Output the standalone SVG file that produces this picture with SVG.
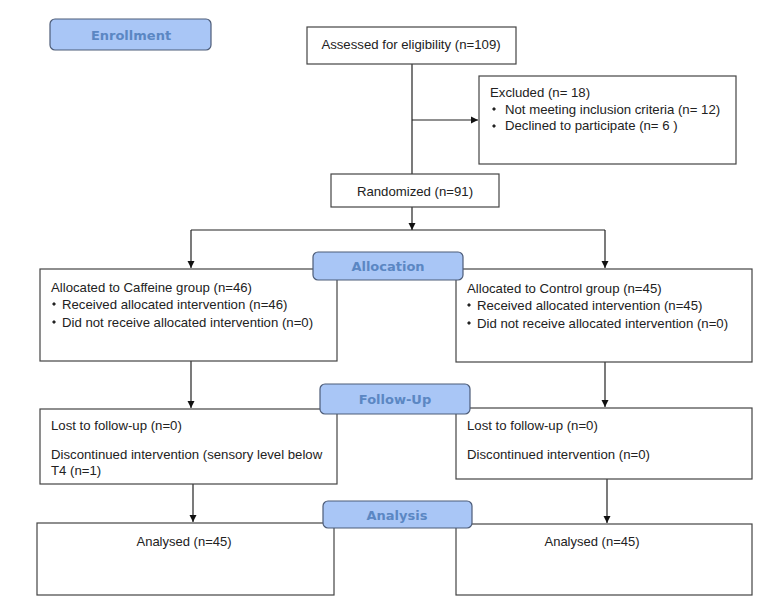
<svg xmlns="http://www.w3.org/2000/svg" width="778" height="602" viewBox="0 0 778 602">
<style>
.box{fill:#fff;stroke:#444;stroke-width:1.2}
.lbl{fill:#a9c6f6;stroke:#4d5c78;stroke-width:1.2}
.lt{font-family:"DejaVu Sans",sans-serif;font-weight:bold;font-size:13px;fill:#5b87c3;text-anchor:middle}
.t{font-family:"Liberation Sans",Arial,sans-serif;font-size:13.2px;fill:#222}
.c{text-anchor:middle}
.ln{fill:none;stroke:#222;stroke-width:1.2}
.bul{fill:#222}
</style>
<defs>
<marker id="ah" markerWidth="8" markerHeight="8" refX="7" refY="4" orient="auto" markerUnits="userSpaceOnUse">
<path d="M0,0.5 L7,4 L0,7.5 z" fill="#111"/>
</marker>
<path id="b" d="M0,-2 L2,0 L0,2 L-2,0 z"/>
</defs>
<rect width="778" height="602" fill="#fff"/>
<g id="connectors">
<line class="ln" x1="412" y1="64" x2="412" y2="174"/>
<line class="ln" x1="412" y1="120" x2="478" y2="120" marker-end="url(#ah)"/>
<line class="ln" x1="412" y1="207" x2="412" y2="230" marker-end="url(#ah)"/>
<line class="ln" x1="191" y1="230" x2="605" y2="230"/>
<line class="ln" x1="191" y1="230" x2="191" y2="268" marker-end="url(#ah)"/>
<line class="ln" x1="605" y1="230" x2="605" y2="268" marker-end="url(#ah)"/>
<line class="ln" x1="191" y1="361" x2="191" y2="408" marker-end="url(#ah)"/>
<line class="ln" x1="605" y1="362" x2="605" y2="407" marker-end="url(#ah)"/>
<line class="ln" x1="193" y1="484" x2="193" y2="522" marker-end="url(#ah)"/>
<line class="ln" x1="607" y1="479" x2="607" y2="523" marker-end="url(#ah)"/>
</g>
<g id="assessed">
<rect class="box" x="307" y="27" width="209" height="37"/>
<text class="t c" x="411" y="49">Assessed for eligibility (n=109)</text>
</g>
<g id="excluded">
<rect class="box" x="479" y="76" width="257" height="88"/>
<text class="t" x="490" y="97">Excluded (n= 18)</text>
<use href="#b" class="bul" x="494" y="109"/>
<text class="t" x="505" y="114">Not meeting inclusion criteria (n= 12)</text>
<use href="#b" class="bul" x="494" y="126"/>
<text class="t" x="505" y="130">Declined to participate (n= 6 )</text>
</g>
<g id="randomized">
<rect class="box" x="331" y="174" width="168" height="33"/>
<text class="t c" x="415" y="196">Randomized (n=91)</text>
</g>
<g id="alloc-left">
<rect class="box" x="40" y="269" width="297" height="92"/>
<text class="t" x="51" y="292">Allocated to Caffeine group (n=46)</text>
<use href="#b" class="bul" x="54" y="304"/>
<text class="t" x="62" y="309">Received allocated intervention (n=46)</text>
<use href="#b" class="bul" x="54" y="322"/>
<text class="t" x="62" y="327">Did not receive allocated intervention (n=0)</text>
</g>
<g id="alloc-right">
<rect class="box" x="456" y="269" width="296" height="93"/>
<text class="t" x="467" y="293">Allocated to Control group (n=45)</text>
<use href="#b" class="bul" x="469" y="305"/>
<text class="t" x="477" y="310">Received allocated intervention (n=45)</text>
<use href="#b" class="bul" x="469" y="323"/>
<text class="t" x="477" y="328">Did not receive allocated intervention (n=0)</text>
</g>
<g id="follow-left">
<rect class="box" x="40" y="409" width="297" height="75"/>
<text class="t" x="51" y="430">Lost to follow-up (n=0)</text>
<text class="t" x="51" y="459">Discontinued intervention (sensory level below</text>
<text class="t" x="51" y="475">T4 (n=1)</text>
</g>
<g id="follow-right">
<rect class="box" x="456" y="408" width="296" height="71"/>
<text class="t" x="467" y="430">Lost to follow-up (n=0)</text>
<text class="t" x="467" y="459">Discontinued intervention (n=0)</text>
</g>
<g id="analysis-left">
<rect class="box" x="37" y="523" width="297" height="72"/>
<text class="t c" x="184" y="546" style="font-size:13px">Analysed (n=45)</text>
</g>
<g id="analysis-right">
<rect class="box" x="456" y="524" width="296" height="71"/>
<text class="t c" x="592" y="546" style="font-size:13px">Analysed (n=45)</text>
</g>
<g id="label-enrollment">
<rect class="lbl" x="50" y="19" width="161" height="31" rx="5"/>
<text class="lt" x="131" y="40">Enrollment</text>
</g>
<g id="label-allocation">
<rect class="lbl" x="313" y="252" width="150" height="28" rx="5"/>
<text class="lt" x="388" y="271">Allocation</text>
</g>
<g id="label-followup">
<rect class="lbl" x="320" y="384" width="150" height="30" rx="5"/>
<text class="lt" x="395" y="404">Follow-Up</text>
</g>
<g id="label-analysis">
<rect class="lbl" x="323" y="501" width="149" height="27" rx="5"/>
<text class="lt" x="397" y="520">Analysis</text>
</g>
</svg>
